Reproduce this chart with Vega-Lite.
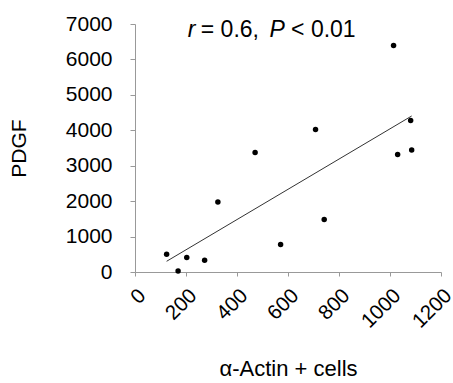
{
  "$schema": "https://vega.github.io/schema/vega-lite/v6.json",
  "autosize": "none",
  "width": 306,
  "height": 248,
  "padding": {"left": 135, "top": 24, "right": 12, "bottom": 111},
  "background": "white",
  "config": {
    "font": "Liberation Sans",
    "view": {"stroke": null},
    "axis": {
      "grid": false,
      "domainColor": "#999999",
      "tickColor": "#999999",
      "labelColor": "black",
      "titleColor": "black",
      "titleFontWeight": "normal",
      "labelFont": "Liberation Sans",
      "titleFont": "Liberation Sans",
      "labelOverlap": false,
      "labelFlush": false,
      "format": "d"
    }
  },
  "datasets": {
    "pts": [
      {"actin": 124, "pdgf": 500},
      {"actin": 169, "pdgf": 28},
      {"actin": 203, "pdgf": 407},
      {"actin": 273, "pdgf": 330},
      {"actin": 325, "pdgf": 1977},
      {"actin": 471, "pdgf": 3373},
      {"actin": 571, "pdgf": 774},
      {"actin": 708, "pdgf": 4022},
      {"actin": 742, "pdgf": 1480},
      {"actin": 1014, "pdgf": 6395},
      {"actin": 1030, "pdgf": 3316},
      {"actin": 1081, "pdgf": 4276},
      {"actin": 1085, "pdgf": 3446}
    ],
    "ital": [
      {"actin": 207, "pdgf": 6640, "t": "r"},
      {"actin": 527, "pdgf": 6640, "t": "P"}
    ],
    "norm": [
      {"actin": 258, "pdgf": 6640, "t": "= 0.6,"},
      {"actin": 612, "pdgf": 6640, "t": "< 0.01"}
    ]
  },
  "encoding": {
    "x": {
      "field": "actin", "type": "quantitative",
      "scale": {"domain": [0, 1200], "nice": false},
      "axis": {
        "values": [0, 200, 400, 600, 800, 1000, 1200],
        "labelAngle": -45,
        "labelFontSize": 20.5,
        "tickSize": 4,
        "labelPadding": 9,
        "title": "α-Actin + cells",
        "titleFontSize": 22,
        "titlePadding": 27
      }
    },
    "y": {
      "field": "pdgf", "type": "quantitative",
      "scale": {"domain": [0, 7000], "nice": false},
      "axis": {
        "values": [0, 1000, 2000, 3000, 4000, 5000, 6000, 7000],
        "labelFontSize": 21,
        "tickSize": 5,
        "labelPadding": 18,
        "title": "PDGF",
        "titleFontSize": 21,
        "titlePadding": 36
      }
    }
  },
  "layer": [
    {
      "data": {"name": "pts"},
      "mark": {"type": "point", "filled": true, "color": "black", "size": 30, "opacity": 1}
    },
    {
      "data": {"name": "pts"},
      "transform": [{"regression": "pdgf", "on": "actin"}],
      "mark": {"type": "line", "color": "#333333", "strokeWidth": 1}
    },
    {
      "data": {"name": "ital"},
      "mark": {"type": "text", "align": "left", "baseline": "alphabetic", "fontSize": 23, "fontStyle": "italic", "color": "black"},
      "encoding": {"text": {"field": "t"}}
    },
    {
      "data": {"name": "norm"},
      "mark": {"type": "text", "align": "left", "baseline": "alphabetic", "fontSize": 23, "color": "black"},
      "encoding": {"text": {"field": "t"}}
    }
  ]
}
